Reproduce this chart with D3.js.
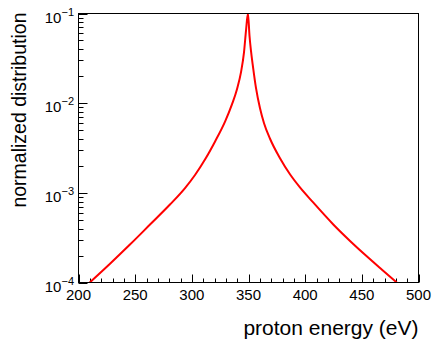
<!DOCTYPE html>
<html>
<head>
<meta charset="utf-8">
<script src="https://cdn.jsdelivr.net/npm/d3@7"></script>
<style>
  body { margin: 0; background: #fff; }
  svg { display: block; font-family: "Liberation Sans", Arial, sans-serif; }
</style>
</head>
<body>
<script>
// proton energy (eV) and normalized distribution
const energy = [209.9, 227.8, 245.4, 263.1, 280.7, 294.0, 302.8, 311.6, 320.4, 329.3,
  335.4, 339.9, 343.4, 346.0, 347.8, 349.5, 350.9, 352.2, 354.0, 356.6, 360.1, 363.7,
  369.0, 377.8, 386.6, 395.4, 406.0, 424.6, 439.6, 454.6, 467.8, 480.8];
const dist = [1.0e-4, 1.62e-4, 2.65e-4, 4.43e-4, 7.40e-4, 1.13e-3, 1.58e-3, 2.35e-3,
  3.72e-3, 6.22e-3, 9.68e-3, 1.44e-2, 2.22e-2, 3.66e-2, 6.44e-2, 1.0e-1, 5.61e-2,
  3.82e-2, 2.53e-2, 1.48e-2, 8.83e-3, 5.98e-3, 4.01e-3, 2.43e-3, 1.61e-3, 1.15e-3,
  8.09e-4, 4.47e-4, 2.91e-4, 1.95e-4, 1.39e-4, 1.0e-4];

const xTicks = [200, 250, 300, 350, 400, 450, 500];
const yExps = [-4, -3, -2, -1];

const W = 436, H = 345;
const fLeft = 78.5, fRight = 418.5, fTop = 13.5, fBottom = 282.5;

const svg = d3.select("body").append("svg")
  .attr("width", W)
  .attr("height", H);

const x = d3.scaleLinear().domain([200, 500]).range([fLeft, fRight]);
const y = d3.scaleLog().domain([1e-4, 1e-1]).range([fBottom, fTop]);

svg.append("clipPath").attr("id", "frame")
  .append("rect")
  .attr("x", fLeft).attr("y", fTop)
  .attr("width", fRight - fLeft).attr("height", fBottom - fTop);

// minor + major ticks, inside the frame
const ticks = svg.append("g").attr("stroke", "#000").attr("stroke-width", 1);

d3.range(200, 501, 10).forEach((v) => {
  const major = v % 50 === 0;
  const px = Math.round(x(v)) + 0.5;
  ticks.append("line")
    .attr("x1", px).attr("x2", px)
    .attr("y1", fBottom).attr("y2", fBottom - (major ? 8 : 4));
});

yExps.forEach((e) => {
  for (let m = 1; m <= 9; m++) {
    const v = m * Math.pow(10, e);
    if (v > 0.1000001) break;
    const py = Math.round(y(v)) + 0.5;
    ticks.append("line")
      .attr("x1", fLeft).attr("x2", fLeft + (m === 1 ? 9 : 5))
      .attr("y1", py).attr("y2", py);
  }
});

// curve
const line = d3.line()
  .x((d, i) => x(energy[i]))
  .y((d) => y(d))
  .curve(d3.curveMonotoneX);

svg.append("path")
  .datum(dist)
  .attr("clip-path", "url(#frame)")
  .attr("fill", "none")
  .attr("stroke", "#ff0000")
  .attr("stroke-width", 2)
  .attr("d", line);

// frame
svg.append("rect")
  .attr("x", fLeft).attr("y", fTop)
  .attr("width", fRight - fLeft).attr("height", fBottom - fTop)
  .attr("fill", "none")
  .attr("stroke", "#000")
  .attr("stroke-width", 1);

// x tick labels
svg.selectAll(".xlab")
  .data(xTicks)
  .enter()
  .append("text")
  .attr("class", "xlab")
  .attr("x", (d) => x(d))
  .attr("y", 300)
  .attr("text-anchor", "middle")
  .attr("font-size", 15)
  .text((d) => d);

// y tick labels 10^n
const ylab = svg.selectAll(".ylab")
  .data(yExps)
  .enter()
  .append("text")
  .attr("class", "ylab")
  .attr("x", 74)
  .attr("y", (d) => y(Math.pow(10, d)) + 9)
  .attr("text-anchor", "end")
  .attr("font-size", 15);
ylab.append("tspan").text("10");
ylab.append("tspan")
  .attr("dy", -7)
  .attr("font-size", 11)
  .text((d) => "\u2212" + Math.abs(d));

// axis titles
svg.append("text")
  .attr("x", fRight)
  .attr("y", 335)
  .attr("text-anchor", "end")
  .attr("font-size", 21)
  .text("proton energy (eV)");

svg.append("text")
  .attr("transform", "translate(26," + (fTop - 1) + ") rotate(-90)")
  .attr("text-anchor", "end")
  .attr("font-size", 19.5)
  .text("normalized distribution");
</script>
</body>
</html>
